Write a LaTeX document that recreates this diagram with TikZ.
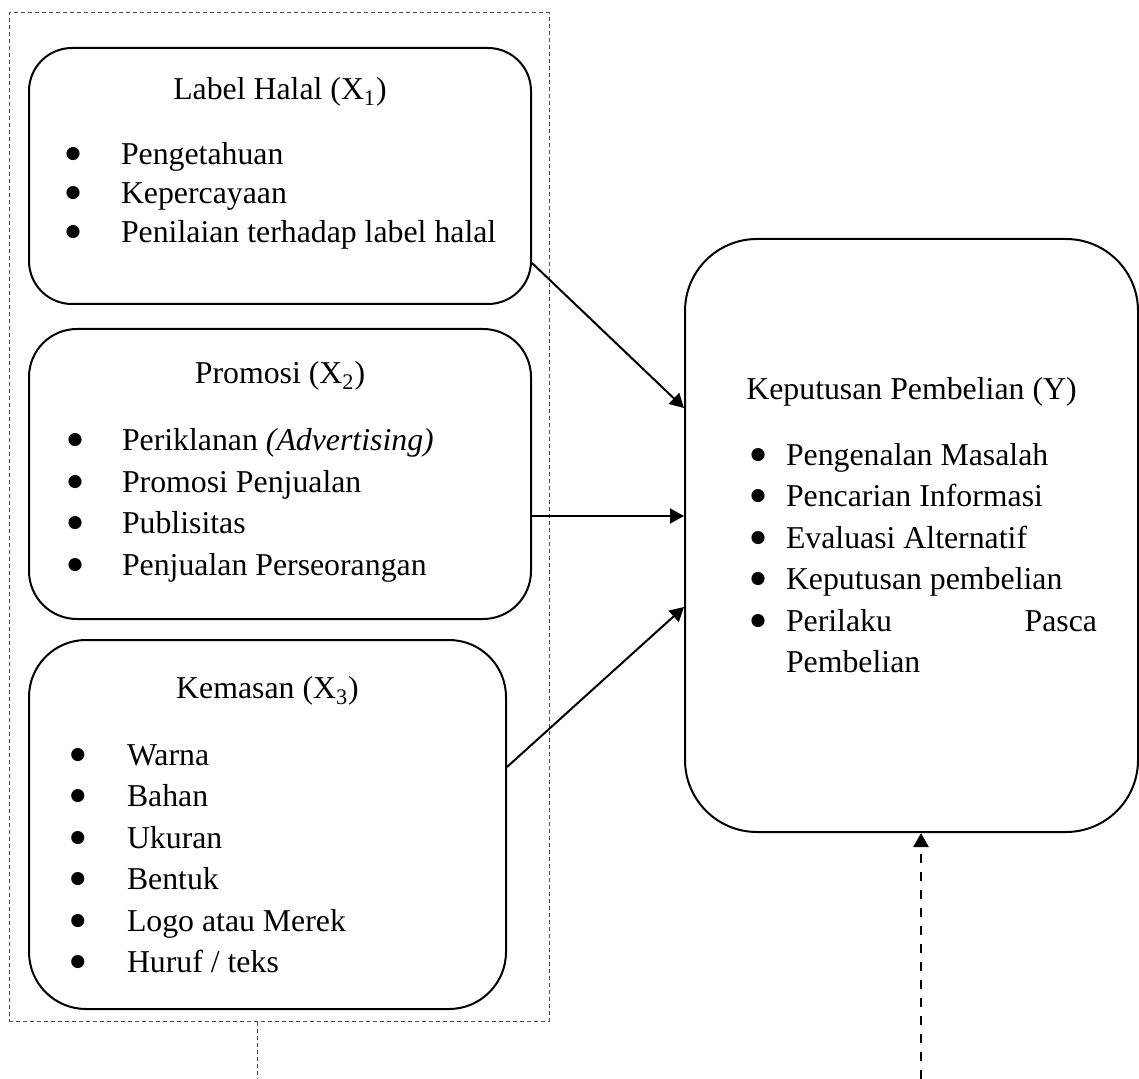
\documentclass[tikz,border=0pt]{standalone}
\usepackage{fontspec}
\setmainfont{Liberation Serif}
\newfontfamily\simbol{DejaVu Sans}
\usetikzlibrary{positioning, arrows.meta}

% one bullet line inside a box
\newcommand{\titik}{\raisebox{3pt}{\simbol\fontsize{8.6}{8.6}\selectfont ●}}
\newcommand{\poin}[1]{\makebox[\lebar][l]{\hspace*{\geser}\makebox[\jarak][l]{\titik}#1}}

\begin{document}
\begin{tikzpicture}[
    x=0.5pt, y=-0.5pt,
    kotak/.style={rectangle, draw, line width=1pt},
    isi/.style={align=center, inner sep=0pt, font=\fontsize{15.9}{20.75}\selectfont},
    tata/.code n args={3}{\def\lebar{#1}\def\geser{#2}\def\jarak{#3}},
    bingkai/.style={draw=black!70, line width=0.5pt, dash pattern=on 2pt off 1.5pt},
    panah/.style={line width=1pt, -{Triangle[length=7pt, width=7.5pt]}},
    putus/.style={line width=1.25pt, dash pattern=on 4.5pt off 4.5pt}
]
    \useasboundingbox (0,0) rectangle (1139,1079);

    \node[bingkai, minimum width=270pt, minimum height=504pt] (kerangka) at (279,517) {};

    \node[kotak, minimum width=251pt, minimum height=128pt, rounded corners=21.5pt] (x1) at (280,176) {};
    \node[kotak, minimum width=251pt, minimum height=145pt, rounded corners=24pt, below=11.5pt of x1] (x2) {};
    \node[kotak, minimum width=238.5pt, minimum height=184.5pt, rounded corners=28.5pt, below right=9.5pt and 0pt of x2.south west] (x3) {};
    \node[kotak, minimum width=226.5pt, minimum height=296.5pt, rounded corners=36pt] (y) at (911.5,535.5) {};

    \node[isi, font=\fontsize{15.9}{19.5}\selectfont, tata={251pt}{18.25pt}{27.75pt}, below=15.25pt of x1.north] (isix1)
        {Label Halal (X\textsubscript{1})\\[12.75pt]
         \poin{Pengetahuan}\\ \poin{Kepercayaan}\\ \poin{Penilaian terhadap label halal}};
    \node[isi, tata={251pt}{19.25pt}{27.25pt}, below=16.75pt of x2.north] (isix2)
        {Promosi (X\textsubscript{2})\\[12.75pt]
         \poin{Periklanan \textit{(Advertising)}}\\ \poin{Promosi Penjualan}\\ \poin{Publisitas}\\ \poin{Penjualan Perseorangan}};
    \node[isi, tata={238.5pt}{20.75pt}{28.25pt}, below=18.75pt of x3.north] (isix3)
        {Kemasan (X\textsubscript{3})\\[12.5pt]
         \poin{Warna}\\ \poin{Bahan}\\ \poin{Ukuran}\\ \poin{Bentuk}\\ \poin{Logo atau Merek}\\ \poin{Huruf / teks}};
    \node[isi, tata={226.5pt}{32.75pt}{17.75pt}, below=69.75pt of y.north] (isiy)
        {Keputusan Pembelian (Y)\\[12pt]
         \poin{Pengenalan Masalah}\\ \poin{Pencarian Informasi}\\ \poin{Evaluasi Alternatif}\\
         \poin{Keputusan pembelian}\\ \poin{Perilaku\hfill Pasca\hspace*{20.5pt}}\\
         \makebox[\lebar][l]{\hspace*{50.5pt}Pembelian}};

    \draw[panah] ([yshift=-43.5pt]x1.east) -- ([yshift=63.75pt]y.west);
    \draw[panah] ([yshift=-21pt]x2.east) -- ([yshift=-21pt]x2.east -| y.west);
    \draw[panah] ([yshift=28.75pt]x3.east) -- ([yshift=-35.75pt]y.west);

    \coordinate (ujung) at (921,1079);
    \coordinate (ekor) at (257,1079);
    \draw[panah, putus] (ujung) -- (ujung |- y.south);
    \draw[bingkai] (kerangka.south -| ekor) -- (ekor);

\end{tikzpicture}
\end{document}
